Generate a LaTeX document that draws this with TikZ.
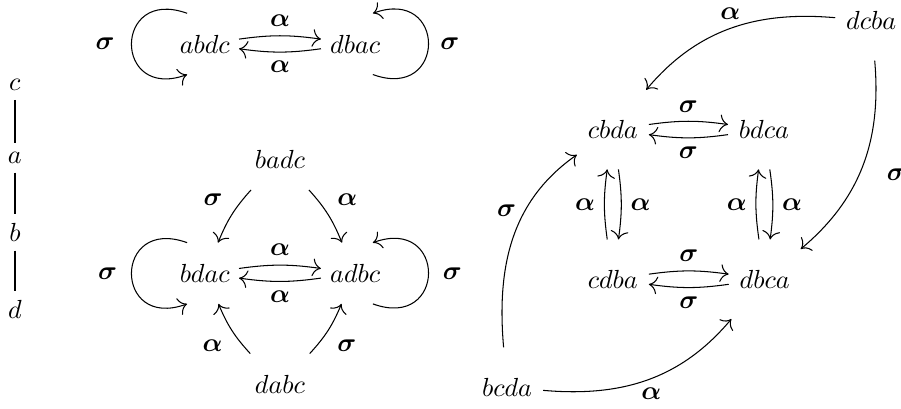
\documentclass[tikz,border=0pt]{standalone}
\usepackage{amsmath,amssymb}
\usetikzlibrary{arrows.meta}
\tikzset{
	perm/.style={minimum height=23pt},
	permR/.style={minimum height=30pt, inner xsep=4pt},
	arr/.style={->},
	hasse/.style={line width=1pt},
	>={Computer Modern Rightarrow[scale=1.3]},
}
\def\Sg{\boldsymbol{\sigma}}
\def\Al{\boldsymbol{\alpha}}
\def\loopL{3.3}

\begin{document}
\begin{tikzpicture}
\useasboundingbox (0,0) rectangle (12.10,5.48);
% the chain
\node (c) at (0.20,4.34) {$c$};
\node (a) at (0.20,3.36) {$a$};
\node (b) at (0.20,2.36) {$b$};
\node (d) at (0.20,1.33) {$d$};
\draw [hasse] (c) -- (a) -- (b) -- (d);
% top pair
\node [perm] (abdc) at (2.75,4.89) {$abdc$};
\node [perm] (dbac) at (4.77,4.89) {$dbac$};
\path (abdc) edge [arr, bend left=8] node [above] {$\Al$} (dbac) ;
\path (dbac) edge [arr, bend left=8] node [below] {$\Al$} (abdc) ;
\path (abdc.120) edge [arr, out=160, in=200, looseness=\loopL] node [left=3pt] {$\Sg$} (abdc.240) ;
\path (dbac.-60) edge [arr, out=-20, in=20, looseness=\loopL] node [right=1pt] {$\Sg$} (dbac.60) ;
% diamond
\node [perm] (badc) at (3.76,3.34) {$badc$};
\node [perm] (bdac) at (2.75,1.81) {$bdac$};
\node [perm] (adbc) at (4.77,1.81) {$adbc$};
\node [perm] (dabc) at (3.76,0.32) {$dabc$};
\path (badc) edge [arr, bend right=10] node [above left] {$\Sg$} (bdac) ;
\path (badc) edge [arr, bend left=10] node [above right] {$\Al$} (adbc) ;
\path (dabc) edge [arr, bend left=10] node [below left] {$\Al$} (bdac) ;
\path (dabc) edge [arr, bend right=10] node [below right] {$\Sg$} (adbc) ;
\path (bdac) edge [arr, bend left=8] node [above] {$\Al$} (adbc) ;
\path (adbc) edge [arr, bend left=8] node [below] {$\Al$} (bdac) ;
\path (bdac.120) edge [arr, out=160, in=200, looseness=\loopL] node [left=2pt] {$\Sg$} (bdac.240) ;
\path (adbc.-60) edge [arr, out=-20, in=20, looseness=\loopL] node [right=2pt] {$\Sg$} (adbc.60) ;
% square
\node [permR] (dcba) at (11.70,5.20) {$dcba$};
\node [permR] (cbda) at (8.23,3.74) {$cbda$};
\node [permR] (bdca) at (10.26,3.74) {$bdca$};
\node [permR] (cdba) at (8.23,1.73) {$cdba$};
\node [permR] (dbca) at (10.27,1.73) {$dbca$};
\node [permR] (bcda) at (6.81,0.28) {$bcda$};
\path (cbda) edge [arr, bend left=8] node [above] {$\Sg$} (bdca) ;
\path (bdca) edge [arr, bend left=8] node [below] {$\Sg$} (cbda) ;
\path (cdba) edge [arr, bend left=8] node [above] {$\Sg$} (dbca) ;
\path (dbca) edge [arr, bend left=8] node [below] {$\Sg$} (cdba) ;
\path (cdba) edge [arr, bend left=8] node [left] {$\Al$} (cbda) ;
\path (cbda) edge [arr, bend left=8] node [right] {$\Al$} (cdba) ;
\path (dbca) edge [arr, bend left=8] node [left] {$\Al$} (bdca) ;
\path (bdca) edge [arr, bend left=8] node [right] {$\Al$} (dbca) ;
\path (dcba) edge [arr, out=175, in=50] node [pos=0.5, above] {$\Al$} (cbda) ;
\path (dcba) edge [arr, out=-85, in=40] node [pos=0.55, right=7pt] {$\Sg$} (dbca) ;
\path (bcda) edge [arr, out=95, in=215] node [pos=0.65, left] {$\Sg$} (cbda) ;
\path (bcda) edge [arr, out=-5, in=230] node [pos=0.52, below] {$\Al$} (dbca) ;
\end{tikzpicture}
\end{document}
